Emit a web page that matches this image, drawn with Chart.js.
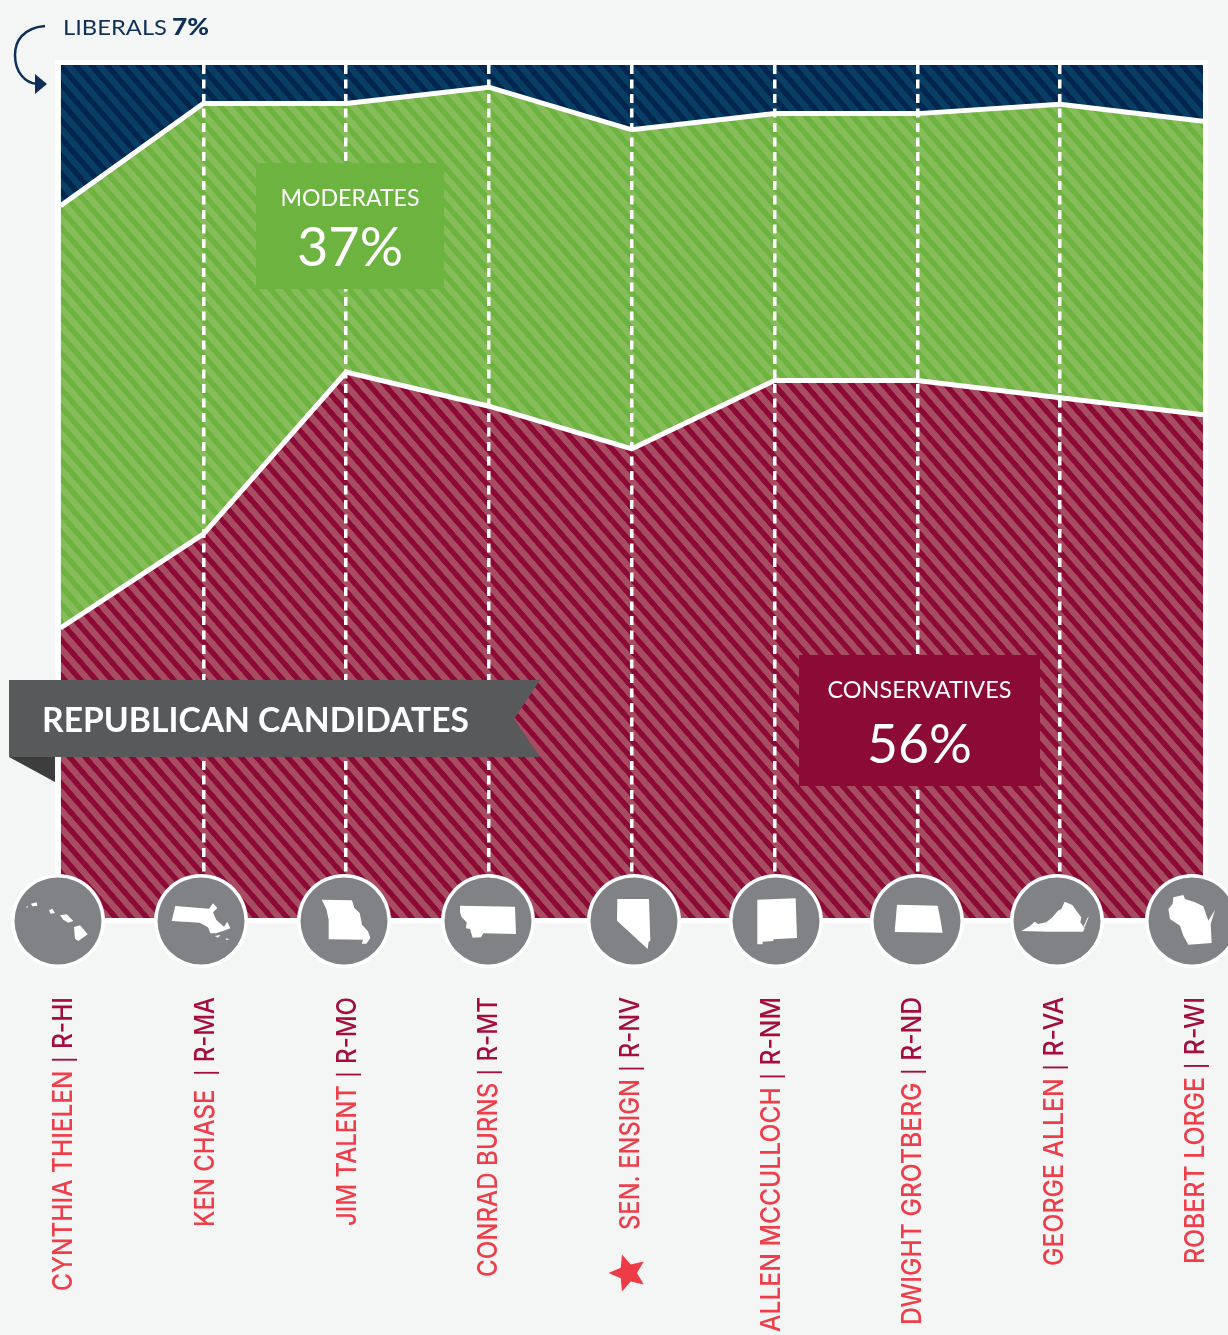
<!DOCTYPE html>
<html>
<head>
<meta charset="utf-8">
<title>Republican candidates</title>
<style>
  html, body { margin: 0; padding: 0; background: #f4f6f5; overflow: hidden; }
  canvas { display: block; }
</style>
<script src="https://cdn.jsdelivr.net/npm/chart.js@4/dist/chart.umd.min.js"></script>
</head>
<body>
<canvas id="chart" width="1228" height="1335"></canvas>
<script>
/* Data */

const candidates = ["CYNTHIA THIELEN", "KEN CHASE ", "JIM TALENT", "CONRAD BURNS", "SEN. ENSIGN", "ALLEN MCCULLOCH", "DWIGHT GROTBERG", "GEORGE ALLEN", "ROBERT LORGE"];
const states = ["R-HI", "R-MA", "R-MO", "R-MT", "R-NV", "R-NM", "R-ND", "R-VA", "R-WI"];
const conservatives = [34, 45, 64, 60, 55, 63, 63, 61, 59];
const moderates = [49.5, 50.5, 31.5, 37.4, 37.4, 31.3, 31.3, 34.4, 34.4];
const liberals = [16.5, 4.5, 4.5, 2.6, 7.6, 5.7, 5.7, 4.6, 6.6];

/* Layout of the hand placed bits around the chart */

const iconCentres = [58, 201, 344, 488, 634, 776, 917, 1057, 1192];
const iconY = 921;
const labelBaselines = [72, 214, 356, 497, 639, 780, 921, 1063, 1204];
const labelLengths = [294, 230, 229, 280, 233, 335, 328, 269, 267];
const labelTop = 997;

/* State outlines, traced at 3x around each circle centre: [originX, originY, shapes] */
const stateShapes = [
    [174, 152, [
        [[222,170],[240,165],[263,192],[235,212],[225,205]],
        [[180,135],[200,132],[220,152],[205,157],[190,148]],
        [[147,120],[157,115],[165,128],[152,130]],
        [[93,100],[110,96],[112,106],[97,108]],
        [[78,112],[82,106],[84,111]]
    ]],
    [604, 153, [
        [[527,108],[628,116],[640,100],[653,114],[640,127],[650,150],[673,170],[683,155],[692,175],[670,183],[648,190],[632,190],[625,172],[600,158],[516,153]],
        [[645,198],[662,195],[655,203]],
        [[678,205],[690,208],[680,210]]
    ]],
    [1031, 154, [
        [[964,90],[1055,92],[1062,115],[1078,130],[1085,165],[1103,185],[1110,205],[1098,222],[1084,222],[1088,210],[985,209],[985,150],[978,118]]
    ]],
    [264, 156, [
        [[180,110],[345,113],[348,195],[250,193],[243,205],[218,206],[210,180],[198,178],[200,160],[185,145],[180,130]]
    ]],
    [701, 156, [
        [[651,90],[746,90],[750,215],[745,218],[742,240],[650,155]]
    ]],
    [1128, 156, [
        [[1072,92],[1187,88],[1191,207],[1120,211],[1120,216],[1088,218],[1088,226],[1072,226]]
    ]],
    [290, 156, [
        [[230,107],[352,110],[360,150],[367,191],[223,189]]
    ]],
    [712, 156, [
        [[605,186],[630,172],[645,158],[655,165],[680,160],[698,145],[715,125],[725,120],[735,98],[758,108],[770,125],[785,145],[782,160],[795,178],[790,188],[690,188]],
        [[808,142],[795,175],[792,172],[803,148]]
    ]],
    [1116, 156, [
        [[1060,85],[1090,78],[1095,90],[1125,100],[1150,112],[1165,155],[1185,122],[1172,165],[1175,222],[1105,227],[1090,200],[1080,170],[1050,150],[1045,120],[1058,105]]
    ]]
];

/* Diagonal stripes for the area fills */

function stripes(dark, light) {
    const tile = document.createElement("canvas");
    tile.width = 4;
    tile.height = 24;
    const t = tile.getContext("2d");
    t.fillStyle = dark;
    t.fillRect(0, 0, 4, 24);
    t.fillStyle = light;
    t.fillRect(0, 0, 4, 13);
    const pattern = t.createPattern(tile, "repeat");
    pattern.setTransform(new DOMMatrix().rotate(49).scale(1, 0.49));
    return pattern;
}

/* Text squeezed to a set length along its own direction */

function fitText(ctx, text, x, y, length, align) {
    const w = ctx.measureText(text).width;
    const s = length / w;
    ctx.save();
    ctx.translate(x, y);
    ctx.scale(s, 1);
    ctx.textAlign = align;
    ctx.fillText(text, 0, 0);
    ctx.restore();
}

function drawCandidateLabels(ctx) {
    ctx.textBaseline = "alphabetic";
    candidates.forEach((name, i) => {
        const labelFont = "500 27px Inter";
        ctx.font = labelFont;
        const first = name + " ";
        const second = "| " + states[i];
        const w1 = ctx.measureText(first).width;
        const w2 = ctx.measureText(second).width;
        const wState = ctx.measureText(states[i]).width;
        const wSpace = ctx.measureText(" ").width;
        const wBar = ctx.measureText("|").width;
        const s = labelLengths[i] / (w1 + w2);
        ctx.save();
        ctx.translate(labelBaselines[i], labelTop);
        ctx.rotate(-Math.PI / 2);
        ctx.scale(s, 1);
        ctx.textAlign = "right";
        ctx.fillStyle = "#a50d3c";
        ctx.fillText(states[i], 0, 0);
        ctx.fillStyle = "#ef3e4a";
        ctx.fillText(first, -w2, 0);
        /* the bar is shorter than the font's own */
        ctx.font = "500 21px Inter";
        ctx.textAlign = "center";
        ctx.fillStyle = "#a50d3c";
        ctx.fillText("|", -wState - wSpace - wBar / 2, 0);
        ctx.restore();
    });
}

function drawIcons(ctx) {
    iconCentres.forEach((cx, i) => {
        ctx.beginPath();
        ctx.arc(cx, iconY, 47, 0, Math.PI * 2);
        ctx.fillStyle = "#ffffff";
        ctx.fill();
        ctx.beginPath();
        ctx.arc(cx, iconY, 43.5, 0, Math.PI * 2);
        ctx.fillStyle = "#808285";
        ctx.fill();

        const [ox, oy, shapes] = stateShapes[i];
        ctx.fillStyle = "#ffffff";
        shapes.forEach(shape => {
            ctx.beginPath();
            shape.forEach(([px, py], n) => {
                const x = cx + (px - ox) / 3;
                const y = iconY + (py - oy) / 3;
                if (n === 0) ctx.moveTo(x, y);
                else ctx.lineTo(x, y);
            });
            ctx.closePath();
            ctx.fill();
        });
    });
}

function drawStar(ctx, cx, cy, outer, inner) {
    ctx.beginPath();
    for (let i = 0; i < 10; i++) {
        const r = i % 2 === 0 ? outer : inner;
        const a = Math.PI + i * Math.PI / 5;
        const x = cx + r * Math.cos(a);
        const y = cy + r * Math.sin(a);
        if (i === 0) ctx.moveTo(x, y);
        else ctx.lineTo(x, y);
    }
    ctx.closePath();
    ctx.fillStyle = "#ee3c46";
    ctx.fill();
}

function drawBox(ctx, x, y, w, h, color, title, titleY, titleW, value, valueY, valueW) {
    const cx = x + w / 2;
    ctx.fillStyle = color;
    ctx.fillRect(x, y, w, h);
    ctx.fillStyle = "#ffffff";
    ctx.textBaseline = "alphabetic";
    ctx.font = "400 23px Lato";
    fitText(ctx, title, cx, titleY, titleW, "center");
    ctx.font = "400 54px Lato";
    fitText(ctx, value, cx, valueY, valueW, "center");
}

function drawBanner(ctx) {
    ctx.fillStyle = "#3d3d3e";
    ctx.beginPath();
    ctx.moveTo(9, 757);
    ctx.lineTo(55, 757);
    ctx.lineTo(55, 782);
    ctx.closePath();
    ctx.fill();

    ctx.fillStyle = "#58595b";
    ctx.beginPath();
    ctx.moveTo(9, 680);
    ctx.lineTo(540, 680);
    ctx.lineTo(514, 719);
    ctx.lineTo(540, 757);
    ctx.lineTo(9, 757);
    ctx.closePath();
    ctx.fill();

    ctx.fillStyle = "#ffffff";
    ctx.textBaseline = "alphabetic";
    ctx.font = "700 34px Lato";
    fitText(ctx, "REPUBLICAN CANDIDATES", 42, 732, 427, "left");
}

function drawLiberalsNote(ctx) {
    ctx.fillStyle = "#0e2f57";
    ctx.textBaseline = "alphabetic";
    ctx.textAlign = "left";
    ctx.font = "400 22px Lato";
    fitText(ctx, "LIBERALS", 63, 35, 104, "left");
    ctx.font = "900 22px Lato";
    fitText(ctx, "7%", 172, 35, 37, "left");

    ctx.strokeStyle = "#0e2f57";
    ctx.lineWidth = 2.5;
    ctx.beginPath();
    ctx.moveTo(45, 26);
    ctx.bezierCurveTo(22, 28, 15, 42, 15, 55);
    ctx.bezierCurveTo(15, 72, 25, 83, 37, 84);
    ctx.stroke();

    ctx.fillStyle = "#0e2f57";
    ctx.beginPath();
    ctx.moveTo(35, 74);
    ctx.lineTo(47, 84);
    ctx.lineTo(35, 94);
    ctx.closePath();
    ctx.fill();
}

const decorations = {
    id: "decorations",
    afterDraw(chart) {
        const ctx = chart.ctx;
        const area = chart.chartArea;
        ctx.save();

        /* white frame round the plot */
        ctx.strokeStyle = "#ffffff";
        ctx.lineWidth = 5;
        ctx.strokeRect(area.left - 2.5, area.top - 2.5, area.right - area.left + 5, area.bottom - area.top + 5);

        drawBox(ctx, 256, 163, 188, 126, "#6cb33f", "MODERATES", 206, 139, "37%", 266, 106);
        drawBox(ctx, 799, 655, 241, 131, "#8c0a36", "CONSERVATIVES", 698, 184, "56%", 763, 105);
        drawBanner(ctx);
        drawIcons(ctx);
        drawCandidateLabels(ctx);
        drawStar(ctx, 628, 1273, 19.5, 9);
        drawLiberalsNote(ctx);

        ctx.restore();
    }
};

const lastColumn = candidates.length - 1;

new Chart(document.querySelector("#chart"), {
    type: "line",
    data: {
        labels: candidates,
        datasets: [
            {
                label: "Conservatives",
                data: conservatives,
                backgroundColor: stripes("#8c0a36", "#a84c62"),
                borderColor: "#ffffff",
                borderWidth: 5,
                fill: "origin"
            },
            {
                label: "Moderates",
                data: moderates,
                backgroundColor: stripes("#6cb33f", "#86bc5a"),
                borderColor: "#ffffff",
                borderWidth: 5,
                fill: "-1"
            },
            {
                label: "Liberals",
                data: liberals,
                backgroundColor: stripes("#00264f", "#083e63"),
                borderColor: "transparent",
                borderWidth: 0,
                fill: "-1"
            }
        ]
    },
    options: {
        responsive: false,
        animation: false,
        layout: {
            padding: { left: 60.5, right: 25, top: 65, bottom: 417 }
        },
        elements: {
            line: { tension: 0 },
            point: { radius: 0, hoverRadius: 0 }
        },
        plugins: {
            legend: { display: false },
            tooltip: { enabled: false }
        },
        scales: {
            x: {
                offset: false,
                border: { display: false, dash: [9, 5.5] },
                grid: {
                    z: 1,
                    lineWidth: 3.5,
                    drawTicks: false,
                    color: c => (c.index === 0 || c.index === lastColumn ? "transparent" : "#ffffff")
                },
                ticks: { display: false, autoSkip: false }
            },
            y: {
                display: false,
                stacked: true,
                min: 0,
                max: 100
            }
        }
    },
    plugins: [decorations]
});
</script>
</body>
</html>
